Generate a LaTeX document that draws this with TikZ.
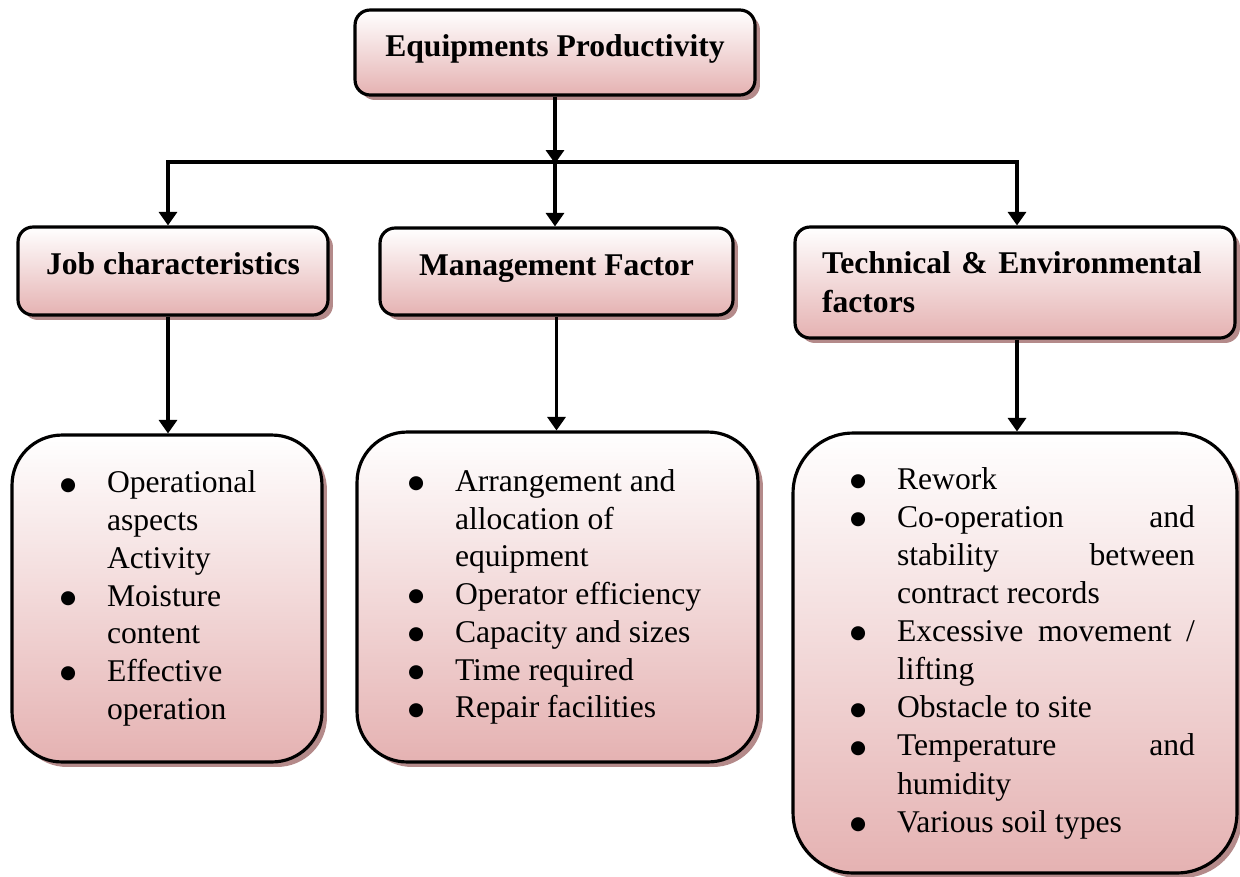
\documentclass[tikz,border=0pt]{standalone}
\usepackage{fontspec}
\setmainfont{Liberation Serif}
\newfontfamily\symfont{DejaVu Sans}
\usepackage{array}
\usetikzlibrary{positioning,shadows,arrows.meta}

\definecolor{rosebot}{RGB}{229,178,178}
\definecolor{roseshade}{RGB}{180,138,138}

% list bullet
\newcommand{\dotmark}{\raisebox{1.5pt}{\symfont\fontsize{10.5}{10.5}\selectfont ●}}

\tikzset{
  wedge/.tip={Triangle[length=0.27cm,width=0.36cm]},
  box/.style={draw, line width=1.8pt, top color=white, bottom color=rosebot,
    drop shadow={shadow xshift=0.1cm, shadow yshift=-0.1cm, fill=roseshade, opacity=1},
    inner sep=0pt, font=\fontsize{18}{21.5}\selectfont},
  headbase/.style={box, rounded corners=0.3cm, font=\fontsize{18}{21.5}\selectfont\bfseries},
  head/.style={headbase, text height=12.5pt, text depth=8pt},
  list/.style={box, rounded corners=1cm},
  conn/.style={line width=1.8pt, -wedge},
}

\begin{document}
\begin{tikzpicture}[x=0.02cm, y=-0.02cm]
\useasboundingbox (0,0) rectangle (1240,876);

% top box
\node[head, minimum width=8cm, minimum height=1.7cm] (top) at (555,52.5) {Equipments Productivity};

% the three factor groups
\node[head, minimum width=6.2cm, minimum height=1.76cm] (hjob) at (173,271) {Job characteristics};
\node[head, minimum width=7.06cm, minimum height=1.74cm] (hman) at (556.5,271.5) {Management Factor};
\node[headbase, minimum width=8.8cm, minimum height=2.22cm, text width=7.72cm, align=left,
  font=\fontsize{18}{22}\selectfont\bfseries] (htech) at (1015,282.5) {Technical \& Environmental\\factors};

% bullet lists
\node[list, minimum width=6.2cm, minimum height=6.54cm] (ljob) at (167,598.5) {%
  \begin{tabular}{@{}p{0.94cm}@{}p{3.34cm}@{}}
  \dotmark & Operational\\
   & aspects\\
   & Activity\\
  \dotmark & Moisture\\
   & content\\
  \dotmark & Effective\\
   & operation
  \end{tabular}};
\node[list, minimum width=8.02cm, minimum height=6.6cm] (lman) at (557.5,597) {%
  \begin{tabular}{@{}p{0.94cm}@{}p{5.04cm}@{}}
  \dotmark & Arrangement and\\
   & allocation of\\
   & equipment\\
  \dotmark & Operator efficiency\\
  \dotmark & Capacity and sizes\\
  \dotmark & Time required\\
  \dotmark & Repair facilities
  \end{tabular}};
\node[list, rounded corners=1.2cm, minimum width=8.88cm, minimum height=8.8cm,
  font=\fontsize{18}{21.7}\selectfont] (ltech) at (1015,653) {%
  \begin{tabular}{@{\hspace{0.3cm}}p{0.94cm}@{}p{5.96cm}@{}}
  \dotmark & Rework\\
  \dotmark & Co-operation\hfill and\\
   & stability\hfill between\\
   & contract records\\
  \dotmark & Excessive\hfill movement\hfill /\\
   & lifting\\
  \dotmark & Obstacle to site\\
  \dotmark & Temperature\hfill and\\
   & humidity\\
  \dotmark & Various soil types
  \end{tabular}};

% connectors
\path (top.south) ++(0,67) coordinate (split);
\coordinate (bj) at (168,162);
\coordinate (bt) at (1017,162);
\draw[conn] (top.south) -- (split);
\draw[line width=1.8pt, wedge-wedge] (bj |- hjob.north) -- (bj) -- (bt) -- (bt |- htech.north);
\draw[conn] (split) -- (split |- hman.north);
\draw[conn] (hjob.south -| bj) -- (bj |- ljob.north);
\draw[conn] (hman.south) -- (hman.south |- lman.north);
\draw[conn] (htech.south -| bt) -- (bt |- ltech.north);
\end{tikzpicture}
\end{document}
